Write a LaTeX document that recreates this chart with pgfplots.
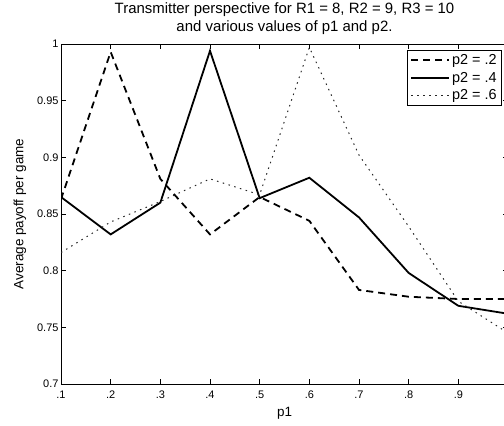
\documentclass[border=0pt]{standalone}
\usepackage{pgfplots}
\pgfplotsset{compat=1.18}
\usepackage{fontspec}
\setmainfont{Liberation Sans}

\begin{document}
\begin{tikzpicture}
\begin{axis}[
    name=ax,
    scale only axis,
    width=447bp,
    height=340bp,
    xmin=0.1, xmax=1,
    ymin=0.7, ymax=1,
    xtick={0.1,0.2,0.3,0.4,0.5,0.6,0.7,0.8,0.9,1},
    xticklabels={.1,.2,.3,.4,.5,.6,.7,.8,.9,{}},
    ytick={0.7,0.75,0.8,0.85,0.9,0.95,1},
    yticklabels={0.7,0.75,0.8,0.85,0.9,0.95,1},
    tick align=inside,
    major tick length=5bp,
    tick style={black, line width=0.6bp},
    axis line style={line width=0.8bp},
    ticklabel style={font=\fontsize{11}{13}\selectfont},
    xticklabel style={yshift=-3bp},
    yticklabel style={xshift=1bp},
    xlabel={p1},
    ylabel={Average payoff per game},
    label style={font=\fontsize{13.5}{16}\selectfont},
    xlabel style={at={(axis description cs:0.5,-0.0853)}, anchor=center},
    ylabel style={at={(axis description cs:-0.0917,0.5)}, anchor=center},
    every axis title shift=0pt,
    title={Transmitter perspective for R1 = 8, R2 = 9, R3 = 10\\and various values of p1 and p2.},
    title style={at={(axis description cs:0.5,1.026)}, anchor=south, yshift=0pt, align=center, inner sep=0pt,
        font=\fontsize{15}{18}\selectfont},
    legend style={at={(1,1)}, anchor=north east, xshift=-6bp, yshift=-6bp,
        draw=black, line width=0.8bp, font=\fontsize{14.5}{16}\selectfont,
        inner xsep=3bp, inner ysep=2bp, row sep=2bp},
    legend cell align=left,
    legend image code/.code={\draw[#1] (0bp,0bp) -- (38bp,0bp);},
]
\addplot[black, line width=1.8bp, dash pattern=on 7bp off 5bp] coordinates {
    (0.1,0.863) (0.2,0.993) (0.3,0.881) (0.4,0.832) (0.5,0.865)
    (0.6,0.844) (0.7,0.783) (0.8,0.777) (0.9,0.775) (1,0.775)
};
\addplot[black, line width=1.8bp] coordinates {
    (0.1,0.865) (0.2,0.832) (0.3,0.860) (0.4,0.994) (0.5,0.864)
    (0.6,0.882) (0.7,0.847) (0.8,0.798) (0.9,0.769) (1,0.762)
};
\addplot[black!85, line width=1bp, dash pattern=on 1.5bp off 4.5bp] coordinates {
    (0.1,0.816) (0.2,0.843) (0.3,0.861) (0.4,0.881) (0.5,0.867)
    (0.6,0.997) (0.7,0.902) (0.8,0.839) (0.9,0.773) (1,0.745)
};
\legend{p2 = .2, p2 = .4, p2 = .6}
\end{axis}
\pgfresetboundingbox
\path ([shift={(-61bp,-41bp)}]ax.south west) rectangle ([shift={(-4bp,44bp)}]ax.north east);
\end{tikzpicture}
\end{document}
